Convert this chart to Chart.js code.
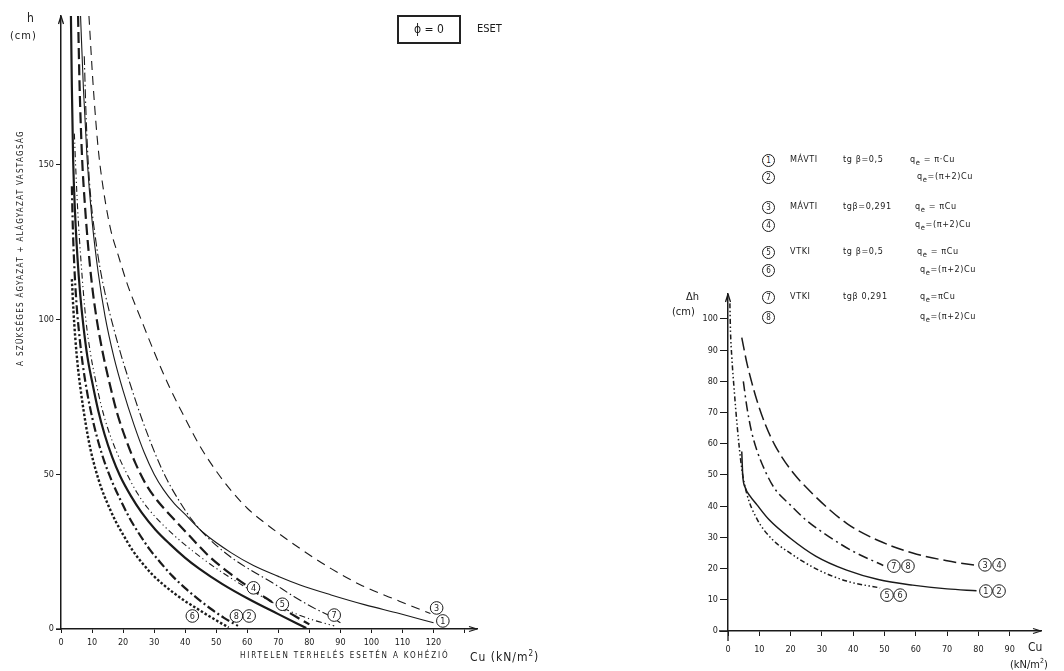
<!DOCTYPE html>
<html><head><meta charset="utf-8">
<script src="https://cdn.jsdelivr.net/npm/chart.js@4.4.1/dist/chart.umd.min.js"></script>
<style>
html,body{margin:0;padding:0;background:#fff;}
body{width:1064px;height:671px;position:relative;overflow:hidden;font-family:"DejaVu Sans Condensed","DejaVu Sans",sans-serif;color:#1a1a1a;}
#c1{position:absolute;left:0;top:0;width:560px;height:671px;}
#c2{position:absolute;left:660px;top:270px;width:404px;height:401px;}
.t{position:absolute;white-space:nowrap;line-height:1;}
.lg{font-size:9px;letter-spacing:0.6px;}
.cd{width:11px;height:11px;border:1px solid #1a1a1a;border-radius:50%;font-size:8px;text-align:center;line-height:11px;}
</style></head><body>
<canvas id="c1" width="560" height="671"></canvas>
<canvas id="c2" width="404" height="401"></canvas>

<div class="t" style="left:27px;top:12px;font-size:12px;">h</div>
<div class="t" style="left:10px;top:30px;font-size:11px;letter-spacing:1px;">(cm)</div>
<div class="t" style="left:21px;top:248px;font-size:8px;letter-spacing:1.3px;transform:translate(-50%,-50%) rotate(-90deg);">A SZÜKSÉGES ÁGYAZAT + ALÁGYAZAT VASTAGSÁG</div>
<div class="t" style="left:240px;top:652px;font-size:8px;letter-spacing:1.85px;">HIRTELEN TERHELÉS ESETÉN A KOHÉZIÓ</div>
<div class="t" style="left:470px;top:650px;font-size:12px;letter-spacing:1px;">Cu (kN/m<sup style="font-size:8px;">2</sup>)</div>

<div class="t" style="left:397px;top:15px;width:64px;height:29px;box-sizing:border-box;border:2px solid #222;font-size:12px;text-align:center;line-height:25px;">ϕ = 0</div>
<div class="t" style="left:477px;top:23px;font-size:11px;">ESET</div>

<div class="t" style="left:686px;top:291px;font-size:11px;">Δh</div>
<div class="t" style="left:672px;top:306px;font-size:11px;">(cm)</div>
<div class="t" style="left:1028px;top:641px;font-size:12px;">Cu</div>
<div class="t" style="left:1010px;top:658px;font-size:11px;">(kN/m<sup style="font-size:7px;">2</sup>)</div>

<div id="legend"></div>

<script>
// ---------- DATA: left chart (h vs Cu) ----------
const cu1 = [6.3, 7.2, 8.4, 10, 12, 14.2, 17, 20, 23.5, 26.8, 30, 33, 36.5, 40, 46, 55, 62, 70, 77, 87, 98, 109, 120];
const h1  = [198, 175, 152, 132, 115, 101, 88, 77, 66, 57, 50, 45, 40.5, 37, 31, 24.5, 20.5, 17, 14.2, 11, 7.8, 5, 2];
const cu2 = [3.2, 3.5, 3.9, 4.5, 5.3, 6.2, 7.2, 8.5, 10, 12, 14, 16.5, 19, 22.5, 26, 30.5, 35, 40, 44.5, 52, 60.6, 70, 79];
const h2  = [198, 175, 152, 135, 120, 108, 98, 88, 80, 70.5, 63, 55.5, 49.5, 43, 37.6, 32, 27.5, 23, 19.5, 14.5, 9.6, 4.8, 0.3];
const cu3 = [9, 10.4, 12, 13.8, 16, 18.5, 21.5, 25.8, 30, 35, 40, 44.5, 50, 55, 60, 66, 77, 87, 97, 109, 119];
const h3  = [198, 175, 155, 141, 129, 120.5, 111, 100, 89.5, 78, 68, 59.5, 51, 44.5, 39, 34, 26, 19.5, 14, 9, 5];
const cu4 = [5.5, 6, 6.8, 7.7, 8.8, 10, 11.5, 13.5, 15.5, 18, 21, 24, 27.5, 31, 34.5, 41, 47.7, 55, 60.6, 66, 71, 76, 80];
const h4  = [198, 175, 152, 137, 123, 111, 100, 89, 80, 70, 61, 53.5, 46.5, 41.5, 37.5, 30.5, 23.5, 17.5, 13.5, 10, 6.8, 3.8, 1.5];
const cu5 = [4.3, 4.7, 5.4, 6.5, 8, 9.5, 11, 13, 15, 18, 21, 24.5, 28, 33, 39, 48, 57, 65, 72.5, 80, 88];
const h5  = [160, 150, 135, 118, 100, 89, 81, 72, 65, 57, 50.6, 44, 39, 33.5, 28, 21, 15, 10.3, 6.3, 3.3, 1];
const cu6 = [3.5, 4, 4.6, 5.5, 6.5, 8, 9.5, 11, 13, 15, 17.5, 20, 23, 26, 29.5, 33, 36.5, 40, 43.5, 47, 50.5, 54];
const h6  = [113, 103, 94, 84, 76, 66, 58, 52, 45.5, 40.5, 35, 30.5, 25.5, 21.5, 17.5, 14.3, 11.5, 9, 6.8, 4.6, 2.5, 0.5];
const cu7 = [7.5, 8, 8.7, 9.7, 11, 12.5, 14.5, 17, 19.5, 22, 26, 30.6, 34, 38, 42, 46.8, 55, 62, 68, 75, 82, 87, 90];
const h7  = [185, 168, 152, 138, 127, 117, 107, 97, 88, 80, 68, 56, 48.5, 41.5, 35.5, 30, 23, 18.5, 15, 10.5, 6.5, 4, 2];
const cu8 = [3.5, 3.8, 4.3, 5, 6, 7, 8.5, 10, 12, 14, 16.5, 19, 22, 25, 28.5, 32, 36, 40, 44, 48, 52.5, 57];
const h8  = [143, 130, 117, 105, 94, 85.5, 76, 68.5, 60.5, 54, 47.5, 42, 36, 31, 25.8, 21.5, 17, 13.2, 9.8, 6.7, 3.6, 1];

const leftXTickValues = [0,10,20,30,40,50,60,70,80,90,100,110,120,130];
const leftXTickLabels = ['0','10','20','30','40','50','60','70','80','90','100','110','120',''];
const leftYTickValues = [0,50,100,150];
const leftYTickLabels = ['0','50','100','150'];

// curve tags on left chart (data coords)
const leftTagText = ['1','3','7','5','4','2','8','6'];
const leftTagX    = [123, 121, 88, 71.3, 62, 60.6, 56.5, 42.3];
const leftTagY    = [2.6, 6.8, 4.5, 8, 13.3, 4.2, 4.2, 4.2];

// ---------- DATA: right chart (Δh vs Cu) ----------
const cuA = [4.4, 4.7, 5.5, 7, 9.2, 13, 19.8, 28, 37.9, 48, 59, 70, 79.4];          // 1-2
const hA  = [57.5, 50, 46, 43.3, 40.5, 35.8, 29.8, 24, 19.5, 16.5, 14.7, 13.5, 12.9];
const cuB = [4.4, 6, 7.5, 9.2, 12, 15, 19.8, 27, 37.9, 48, 59, 70, 79.4];           // 3-4
const hB  = [94, 86, 80, 74, 66, 59.5, 52, 44, 34.5, 29, 25, 22.5, 21];
const cuC = [0.6, 0.8, 1.2, 2, 3, 4.4, 6, 9.2, 14, 19.8, 28, 37.9, 48.6];           // 5-6
const hC  = [105, 96, 88, 77, 65, 52, 44, 36, 29.5, 25, 20, 16, 13.8];
const cuD = [4.9, 6, 7.5, 9.2, 12, 15, 19.8, 25, 32.6, 40, 49.6];                   // 7-8
const hD  = [80, 72, 64, 58, 51, 45.5, 40.5, 35.5, 30, 25.5, 21];

const rightXTickValues = [0,10,20,30,40,50,60,70,80,90];
const rightYTickValues = [0,10,20,30,40,50,60,70,80,90,100];

const rightTagText = ['1','2','3','4','5','6','7','8'];
const rightTagX    = [82.4, 86.6, 82.1, 86.6, 50.8, 55, 53, 57.5];
const rightTagY    = [12.8, 12.8, 21.2, 21.2, 11.5, 11.5, 20.8, 20.8];

// ---------- legend table ----------
const legendNums  = ['1','2','3','4','5','6','7','8'];
const legendOrg   = ['MÁVTI','','MÁVTI','','VTKI','','VTKI',''];
const legendTg    = ['tg β=0,5','','tgβ=0,291','','tg β=0,5','','tgβ 0,291',''];
const legendQ     = ['q<sub>e</sub> = π·Cu','q<sub>e</sub>=(π+2)Cu','q<sub>e</sub> = πCu','q<sub>e</sub>=(π+2)Cu','q<sub>e</sub> = πCu','q<sub>e</sub>=(π+2)Cu','q<sub>e</sub>=πCu','q<sub>e</sub>=(π+2)Cu'];
const legendRowY  = [160, 177, 207, 225, 252, 270, 297, 317];
const legendQX    = [910, 917, 915, 915, 917, 920, 920, 920];
(function(){
  const L = document.getElementById('legend');
  let html = '';
  for (let i=0;i<8;i++){
    const y = legendRowY[i];
    html += `<div class="t cd" style="left:762px;top:${y-6}px;">${legendNums[i]}</div>`;
    if (legendOrg[i]) html += `<div class="t lg" style="left:790px;top:${y-5}px;">${legendOrg[i]}</div>`;
    if (legendTg[i]) html += `<div class="t lg" style="left:843px;top:${y-5}px;">${legendTg[i]}</div>`;
    html += `<div class="t lg" style="left:${legendQX[i]}px;top:${y-5}px;">${legendQ[i]}</div>`;
  }
  L.innerHTML = html;
})();

function pts(xs, ys){ return xs.map((x,i)=>({x:x, y:ys[i]})); }
const INK = '#1a1a1a';
function ds(xs, ys, w, dash){
  return {data: pts(xs,ys), showLine:true, borderColor:INK, borderWidth:w, borderDash:dash,
          pointRadius:0, fill:false, cubicInterpolationMode:'monotone', tension:0.4};
}

function decoPlugin(tagText, tagX, tagY, arrow){
  return {
    id:'deco',
    afterDraw(chart){
      const ctx = chart.ctx, xs = chart.scales.x, ys = chart.scales.y, a = chart.chartArea;
      ctx.save();
      ctx.strokeStyle = INK; ctx.fillStyle = INK; ctx.lineWidth = 1.3;
      ctx.beginPath();
      ctx.moveTo(a.left, a.bottom); ctx.lineTo(a.left, a.bottom + arrow.down);
      ctx.moveTo(a.left, a.bottom); ctx.lineTo(a.left - arrow.back, a.bottom);
      ctx.stroke();
      ctx.beginPath();
      ctx.moveTo(a.right, a.bottom); ctx.lineTo(a.right - 8, a.bottom - 2.5);
      ctx.moveTo(a.right, a.bottom); ctx.lineTo(a.right - 8, a.bottom + 2.5);
      ctx.moveTo(a.left, a.top); ctx.lineTo(a.left - 2.5, a.top + 8);
      ctx.moveTo(a.left, a.top); ctx.lineTo(a.left + 2.5, a.top + 8);
      ctx.stroke();
      ctx.font = '9px "DejaVu Sans Condensed","DejaVu Sans",sans-serif';
      ctx.textAlign = 'center'; ctx.textBaseline = 'middle';
      for (let i=0;i<tagText.length;i++){
        const px = xs.getPixelForValue(tagX[i]), py = ys.getPixelForValue(tagY[i]);
        ctx.beginPath(); ctx.arc(px, py, 6.3, 0, Math.PI*2);
        ctx.fillStyle = '#fff'; ctx.fill();
        ctx.lineWidth = 1; ctx.strokeStyle = INK; ctx.stroke();
        ctx.fillStyle = INK; ctx.fillText(tagText[i], px, py + 0.5);
      }
      ctx.restore();
    }
  };
}

const tickFont = {family:'"DejaVu Sans Condensed","DejaVu Sans",sans-serif', size:9};

function axes(o){
  return {
    x: {type:'linear', min:0, max:o.xmax,
        afterFit: s => { s.height = o.xh; },
        afterBuildTicks: s => { s.ticks = o.xt.map(v=>({value:v})); },
        grid:{drawOnChartArea:false, drawTicks:true, tickLength:o.xtl, color:INK, lineWidth:1},
        border:{display:true, color:INK, width:1.5},
        ticks:{font:tickFont, color:INK, padding:o.xpad, autoSkip:false, maxRotation:0,
               callback:(v,i)=> o.xl ? o.xl[i] : String(o.xt[i])}},
    y: {type:'linear', min:0, max:o.ymax,
        afterFit: s => { s.width = o.yw; },
        afterBuildTicks: s => { s.ticks = o.yt.map(v=>({value:v})); },
        grid:{drawOnChartArea:false, drawTicks:true, tickLength:o.ytl, color:INK, lineWidth:1},
        border:{display:true, color:INK, width:1.5},
        ticks:{font:tickFont, color:INK, padding:2, autoSkip:false,
               callback:(v,i)=> o.yl ? o.yl[i] : String(o.yt[i])}}
  };
}

new Chart(document.getElementById('c1'), {
  type:'scatter',
  data:{datasets:[
    ds(cu1,h1,1.1,[]),
    ds(cu2,h2,2.2,[]),
    ds(cu3,h3,1.1,[9,6]),
    ds(cu4,h4,2.2,[11,5]),
    ds(cu5,h5,1.1,[6,3,1.2,3,1.2,3]),
    ds(cu6,h6,2.4,[2.5,2]),
    ds(cu7,h7,1.1,[9,3,1.5,3]),
    ds(cu8,h8,2.2,[9,3,2,3])
  ]},
  options:{
    responsive:false, animation:false, events:[],
    layout:{padding:{left:0, top:16, right:83, bottom:0}},
    plugins:{legend:{display:false}, tooltip:{enabled:false}},
    scales: axes({xmax:134, ymax:198, xh:42, yw:61, xt:leftXTickValues, xl:leftXTickLabels,
                  yt:leftYTickValues, yl:leftYTickLabels, xtl:4, ytl:5, xpad:4})
  },
  plugins:[decoPlugin(leftTagText, leftTagX, leftTagY, {down:0, back:5})]
});

new Chart(document.getElementById('c2'), {
  type:'scatter',
  data:{datasets:[
    ds(cuA,hA,1.5,[]),
    ds(cuB,hB,1.5,[13,5]),
    ds(cuC,hC,1.5,[5,2.5,1.5,2.5,1.5,2.5]),
    ds(cuD,hD,1.5,[10,4,2,4])
  ]},
  options:{
    responsive:false, animation:false, events:[],
    layout:{padding:{left:0, top:24, right:23, bottom:0}},
    plugins:{legend:{display:false}, tooltip:{enabled:false}},
    scales: axes({xmax:100, ymax:108, xh:40, yw:68, xt:rightXTickValues, yt:rightYTickValues,
                  xtl:5, ytl:8, xpad:8})
  },
  plugins:[decoPlugin(rightTagText, rightTagX, rightTagY, {down:10, back:9})]
});
</script>
</body></html>
